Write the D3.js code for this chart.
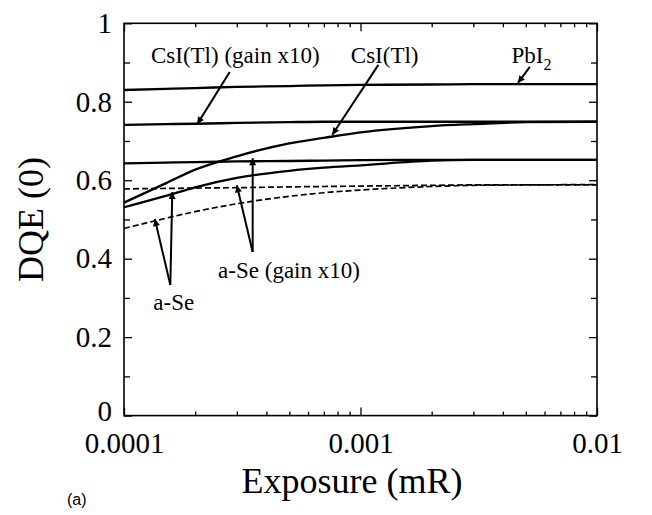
<!DOCTYPE html>
<html>
<head>
<meta charset="utf-8">
<script src="https://cdn.jsdelivr.net/npm/d3@7"></script>
<style>
  body { margin: 0; background: #fff; }
  svg { display: block; }
  text { font-family: "Liberation Serif", "Times New Roman", serif; fill: #000; }
</style>
</head>
<body>
<div class="chart"></div>
<script>
// exposure grid (mR) shared by every curve
const exposure = [1e-4, 1.5e-4, 2e-4, 3e-4, 5e-4, 7e-4, 1e-3, 2e-3, 3e-3, 5e-3, 1e-2];

const pbi2      = [0.830, 0.833, 0.835, 0.838, 0.840, 0.842, 0.843, 0.844, 0.845, 0.845, 0.845];
const csiGain   = [0.741, 0.743, 0.744, 0.746, 0.748, 0.749, 0.749, 0.749, 0.749, 0.749, 0.749];
const csi       = [0.543, 0.592, 0.627, 0.661, 0.694, 0.708, 0.722, 0.738, 0.743, 0.748, 0.749];
const aseGain   = [0.643, 0.645, 0.646, 0.648, 0.649, 0.650, 0.651, 0.652, 0.652, 0.652, 0.652];
const ase       = [0.531, 0.560, 0.582, 0.606, 0.624, 0.632, 0.638, 0.650, 0.652, 0.652, 0.652];
const dashUpper = [0.578, 0.579, 0.580, 0.581, 0.583, 0.584, 0.585, 0.587, 0.588, 0.588, 0.588];
const dashLower = [0.477, 0.503, 0.520, 0.540, 0.559, 0.568, 0.575, 0.584, 0.587, 0.588, 0.589];

const xMajor = [1e-4, 1e-3, 1e-2];
const xLabels = ['0.0001', '0.001', '0.01'];
const yMajor = [0, 0.2, 0.4, 0.6, 0.8, 1];
const yLabels = ['0', '0.2', '0.4', '0.6', '0.8', '1'];
const yMinor = [0.1, 0.3, 0.5, 0.7, 0.9];

const series = [
    { name: 'PbI2', values: pbi2, dashed: false },
    { name: 'CsI(Tl) (gain x10)', values: csiGain, dashed: false },
    { name: 'CsI(Tl)', values: csi, dashed: false },
    { name: 'a-Se (gain x10)', values: aseGain, dashed: false },
    { name: 'a-Se', values: ase, dashed: false },
    { name: 'a-Se (gain x10) dashed', values: dashUpper, dashed: true },
    { name: 'a-Se dashed', values: dashLower, dashed: true }
];

const width = 652, height = 515;
const margin = { top: 23.3, right: 55, bottom: 99.4, left: 124 };

const svg = d3.select('.chart')
    .append('svg')
    .attr('width', width)
    .attr('height', height);

const x = d3.scaleLog()
    .domain([1e-4, 1e-2])
    .range([margin.left, width - margin.right]);

const y = d3.scaleLinear()
    .domain([0, 1])
    .range([height - margin.bottom, margin.top]);

const x0 = margin.left, x1 = width - margin.right;
const y0 = height - margin.bottom, y1 = margin.top;

// minor log ticks (2..9 in each decade)
const xMinor = [];
[1e-4, 1e-3].forEach(d => {
    for (let k = 2; k <= 9; k++) xMinor.push(d * k);
});

// axes, ticks pointing inward
function addAxis(axis, tx, ty) {
    const g = svg.append('g')
        .attr('transform', `translate(${tx},${ty})`)
        .call(axis);
    g.select('.domain').remove();
    g.selectAll('line').attr('stroke', '#000').attr('stroke-width', 1.3);
    return g;
}

const bottom = addAxis(d3.axisBottom(x).tickValues(xMajor).tickSize(-8).tickPadding(17)
    .tickFormat((d, i) => xLabels[i]), 0, y0);
addAxis(d3.axisBottom(x).tickValues(xMinor).tickSize(-4).tickFormat(''), 0, y0);
addAxis(d3.axisTop(x).tickValues(xMajor).tickSize(-8).tickFormat(''), 0, y1);
addAxis(d3.axisTop(x).tickValues(xMinor).tickSize(-4).tickFormat(''), 0, y1);

const left = addAxis(d3.axisLeft(y).tickValues(yMajor).tickSize(-8).tickPadding(12)
    .tickFormat((d, i) => yLabels[i]), x0, 0);
addAxis(d3.axisLeft(y).tickValues(yMinor).tickSize(-6).tickFormat(''), x0, 0);
addAxis(d3.axisRight(y).tickValues(yMajor).tickSize(-8).tickFormat(''), x1, 0);
addAxis(d3.axisRight(y).tickValues(yMinor).tickSize(-6).tickFormat(''), x1, 0);

bottom.selectAll('text')
    .style('font-family', '"Liberation Serif", serif')
    .style('font-size', '29px')
    .attr('fill', '#000');
left.selectAll('text')
    .style('font-family', '"Liberation Serif", serif')
    .style('font-size', '29px')
    .attr('fill', '#000');
// the "0" sits a little high so it clears "0.0001"
left.selectAll('.tick text').filter(d => d === 0).attr('y', -4);

// frame
svg.append('rect')
    .attr('x', x0)
    .attr('y', y1)
    .attr('width', x1 - x0)
    .attr('height', y0 - y1)
    .attr('fill', 'none')
    .attr('stroke', '#000')
    .attr('stroke-width', 1.6);

// curves
const line = d3.line()
    .x((d, i) => x(exposure[i]))
    .y(d => y(d))
    .curve(d3.curveMonotoneX);

svg.append('g')
    .selectAll('path')
    .data(series)
    .enter()
    .append('path')
    .attr('d', d => line(d.values))
    .attr('fill', 'none')
    .attr('stroke', '#000')
    .attr('stroke-width', d => d.dashed ? 1.7 : 2.3)
    .attr('stroke-dasharray', d => d.dashed ? '6,3' : null);

// arrowheads
svg.append('defs')
    .append('marker')
    .attr('id', 'head')
    .attr('viewBox', '0 0 10 10')
    .attr('refX', 10)
    .attr('refY', 5)
    .attr('markerWidth', 13)
    .attr('markerHeight', 7)
    .attr('markerUnits', 'userSpaceOnUse')
    .attr('orient', 'auto')
    .append('path')
    .attr('d', 'M0,0 L10,5 L0,10 Z')
    .attr('fill', '#000');

// arrows: from [exposure, dqe] to tip [exposure, dqe]
const arrows = [
    { from: [2.8e-4, 0.876], to: [2.04e-4, 0.743] },
    { from: [1.19e-3, 0.894], to: [7.6e-4, 0.716] },
    { from: [5.2e-3, 0.889], to: [4.63e-3, 0.848] },
    { from: [1.57e-4, 0.333], to: [1.6e-4, 0.570] },
    { from: [1.57e-4, 0.333], to: [1.35e-4, 0.501] },
    { from: [3.5e-4, 0.417], to: [3.5e-4, 0.656] },
    { from: [3.5e-4, 0.417], to: [3.0e-4, 0.587] }
];

svg.append('g')
    .selectAll('line')
    .data(arrows)
    .enter()
    .append('line')
    .attr('x1', d => x(d.from[0]))
    .attr('y1', d => y(d.from[1]))
    .attr('x2', d => x(d.to[0]))
    .attr('y2', d => y(d.to[1]))
    .attr('stroke', '#000')
    .attr('stroke-width', 2)
    .attr('marker-end', 'url(#head)');

// labels, anchored at [exposure, dqe]
const notes = [
    { text: 'CsI(Tl) (gain x10)', at: [1.3e-4, 0.898] },
    { text: 'CsI(Tl)', at: [9.1e-4, 0.898] },
    { text: 'a-Se (gain x10)', at: [2.5e-4, 0.351] },
    { text: 'a-Se', at: [1.33e-4, 0.269] }
];

svg.append('g')
    .selectAll('text')
    .data(notes)
    .enter()
    .append('text')
    .attr('x', d => x(d.at[0]))
    .attr('y', d => y(d.at[1]))
    .style('font-size', '23px')
    .text(d => d.text);

const pb = svg.append('text')
    .attr('x', x(4.35e-3))
    .attr('y', y(0.898))
    .style('font-size', '23px');
pb.append('tspan').text('PbI');
pb.append('tspan').attr('dy', 7).style('font-size', '16px').text('2');

// axis titles
svg.append('text')
    .attr('x', 352)
    .attr('y', 493)
    .attr('text-anchor', 'middle')
    .style('font-size', '36px')
    .text('Exposure (mR)');

svg.append('text')
    .attr('transform', `translate(43,${(y0 + y1) / 2}) rotate(-90)`)
    .attr('text-anchor', 'middle')
    .style('font-size', '36px')
    .text('DQE (0)');

svg.append('text')
    .attr('x', 67)
    .attr('y', 505)
    .style('font-family', '"Liberation Sans", Arial, sans-serif')
    .style('font-size', '16px')
    .text('(a)');
</script>
</body>
</html>
